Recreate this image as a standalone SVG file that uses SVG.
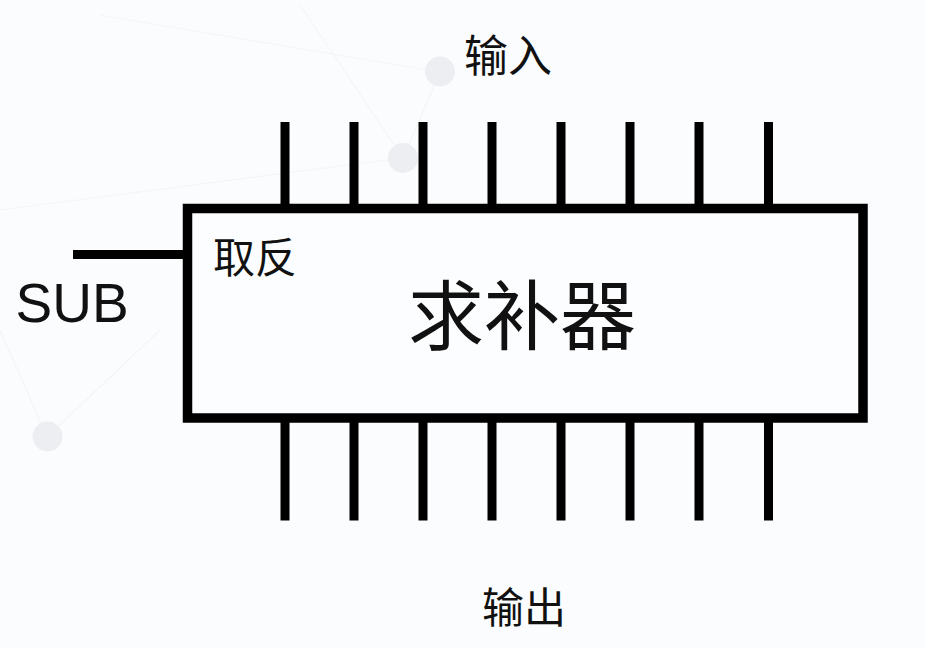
<svg xmlns="http://www.w3.org/2000/svg" width="926" height="648" viewBox="0 0 926 648">
  <style>
    .pin { stroke: #000; stroke-width: 9; fill: none; }
    .box { stroke: #000; stroke-width: 9.5; fill: #fcfdfe; }
    .dot { fill: #eceef1; }
    .faint { stroke: #f3f5f7; stroke-width: 1.2; fill: none; }
    .cjk { font-family: "Noto Sans CJK SC", "Noto Sans", sans-serif; fill: #111; }
    .lat { font-family: "Liberation Sans", Arial, sans-serif; fill: #111; }
  </style>
  <rect x="0" y="0" width="926" height="648" fill="#fbfcfd"/>
  <g id="background">
    <path class="faint" d="M100 15 L440 72 M300 5 L403 158 M440 72 L403 158 M0 210 L403 158 M47 437 L0 330 M47 437 L160 330"/>
    <circle class="dot" cx="440" cy="71.5" r="15"/>
    <circle class="dot" cx="403" cy="158" r="15"/>
    <circle class="dot" cx="47.5" cy="436.5" r="15"/>
  </g>
  <g id="connectors">
    <path class="pin" d="M285 122 V208 M354 122 V208 M423 122 V208 M492 122 V208 M561 122 V208 M630 122 V208 M699 122 V208 M768.5 122 V208"/>
    <path class="pin" d="M285 418 V520.5 M354 418 V520.5 M423 418 V520.5 M492 418 V520.5 M561 418 V520.5 M630 418 V520.5 M699 418 V520.5 M768.5 418 V520.5"/>
    <path class="pin" d="M73 254.5 H187" stroke-width="10"/>
  </g>
  <g id="complementer">
    <rect class="box" x="187.5" y="208.5" width="675.5" height="209.5"/>
    <text class="cjk" x="255" y="273" font-size="42" text-anchor="middle">取反</text>
    <text class="cjk" x="522" y="344" font-size="76" text-anchor="middle">求补器</text>
  </g>
  <g id="labels">
    <text class="cjk" x="508" y="72" font-size="44" text-anchor="middle">输入</text>
    <text class="cjk" x="524" y="623" font-size="42" text-anchor="middle">输出</text>
    <text class="lat" x="15.5" y="321.5" font-size="55">SUB</text>
  </g>
</svg>
